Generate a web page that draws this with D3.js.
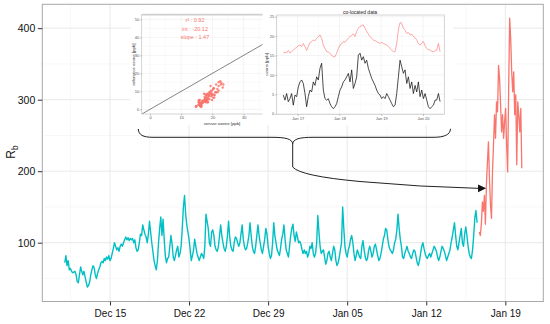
<!doctype html>
<html lang="en">
<head>
<meta charset="utf-8">
<title>Rb with co-located inset</title>
<script src="https://d3js.org/d3.v7.min.js"></script>
<style>
  body { margin: 0; background: #fff; }
  svg { display: block; font-family: 'Liberation Sans', Arial, Helvetica, sans-serif; }
  .grid-major { stroke: #e6e6e6; stroke-width: 0.9; }
  .grid-minor { stroke: #f3f3f3; stroke-width: 0.6; }
</style>
</head>
<body>
<div id="root"></div>
<script>

// main series: Rb before co-location (cyan), sampled every 2.4 h from Dec 11
const cyanStart = new Date(2013, 11, 11, 0, 0);
const cyanStepHours = 2.4;
const cyanValues = [
  72, 82, 68, 75, 62, 64, 60, 58, 59, 60,
  55, 46, 44, 55, 66, 60, 55, 60, 52, 45,
  38, 40, 45, 55, 62, 68, 65, 55, 50, 57,
  62, 66, 72, 74, 72, 78, 75, 80, 77, 82,
  75, 78, 85, 92, 100, 95, 90, 93, 88, 95,
  98, 95, 100, 104, 108, 104, 107, 103, 106, 104,
  106, 100, 104, 93, 88, 90, 100, 112, 110, 125,
  118, 112, 108, 100, 112, 130, 115, 100, 88, 75,
  68, 62, 75, 100, 120, 136, 110, 133, 105, 82,
  72, 78, 80, 95, 110, 98, 80, 75, 82, 90,
  95, 80, 85, 95, 120, 150, 166, 140, 125, 115,
  105, 90, 75, 82, 90, 105, 95, 85, 80, 75,
  80, 85, 82, 78, 95, 140, 130, 120, 100, 95,
  115, 118, 110, 95, 90, 88, 95, 110, 125, 110,
  100, 92, 88, 95, 110, 130, 108, 95, 90, 88,
  100, 108, 106, 100, 95, 100, 112, 125, 105, 95,
  90, 92, 100, 110, 128, 110, 95, 88, 85, 95,
  110, 125, 110, 100, 90, 85, 95, 105, 120, 112,
  95, 85, 78, 82, 100, 128, 110, 100, 90, 86,
  82, 92, 105, 112, 125, 105, 90, 85, 80, 95,
  110, 120, 126, 110, 102, 115, 108, 100, 102, 98,
  90, 85, 90, 85, 88, 80, 85, 95, 92, 100,
  85, 80, 85, 100, 138, 115, 95, 85, 88, 90,
  80, 70, 75, 85, 88, 80, 75, 85, 95, 90,
  75, 68, 72, 80, 90, 100, 150, 120, 95, 85,
  80, 90, 95, 105, 110, 100, 85, 75, 82, 90,
  85, 80, 78, 95, 103, 90, 80, 75, 78, 90,
  95, 88, 80, 85, 95, 98, 90, 82, 75, 78,
  85, 95, 105, 110, 120, 118, 105, 95, 90, 88,
  85, 90, 100, 105, 118, 140, 120, 105, 95, 80,
  78, 85, 90, 95, 88, 85, 80, 78, 85, 90,
  88, 80, 72, 68, 75, 85, 95, 100, 92, 85,
  80, 78, 82, 85, 80, 85, 90, 95, 92, 88,
  80, 75, 80, 88, 95, 92, 88, 82, 75, 80,
  85, 90, 100, 108, 118, 128, 110, 95, 90, 100,
  110, 120, 100, 95, 112, 122, 110, 95, 85, 80,
  78, 90, 110, 135, 145, 128
];

// main series: Rb during co-location (red)
const redStart = new Date(2014, 0, 16, 16, 48);
const redEnd = new Date(2014, 0, 20, 11, 0);
const redValues = [
  115, 110, 126, 157, 144, 166, 126, 182, 213, 241,
  190, 153, 134, 199, 237, 279, 246, 297, 283, 348,
  330, 293, 255, 279, 246, 269, 288, 237, 199, 316,
  414, 386, 339, 311, 339, 279, 307, 209, 297, 279,
  255, 288, 204
];

// inset: co-located ozone, sensor vs reference [ppb]
const colocStart = new Date(2014, 0, 16, 15, 47);
const colocEnd = new Date(2014, 0, 20, 9, 50);
const sensorOzone = [
  15.6, 15.8, 15.7, 16.3, 15.6, 16.0, 16.4, 16.8, 17.1, 17.5,
  17.7, 17.3, 18.1, 17.3, 16.3, 17.4, 18.3, 18.6, 19.0, 18.8,
  19.4, 19.8, 20.3, 19.4, 17.7, 16.8, 16.0, 15.9, 15.6, 15.0,
  14.7, 14.7, 15.6, 16.8, 17.7, 18.0, 18.6, 18.4, 19.0, 19.5,
  19.9, 20.2, 20.6, 19.9, 21.2, 22.0, 22.5, 22.7, 22.9, 22.0,
  21.2, 20.5, 19.9, 19.4, 19.0, 18.8, 18.6, 18.3, 18.1, 18.4,
  18.1, 17.9, 17.7, 17.3, 16.8, 16.4, 16.0, 16.0, 18.1, 21.6,
  23.5, 23.3, 22.0, 21.6, 20.7, 20.9, 20.3, 20.5, 19.9, 19.6,
  19.0, 18.1, 17.7, 18.2, 18.6, 17.5, 16.8, 16.5, 16.4, 16.1,
  16.0, 16.2, 16.4, 18.1, 16.0
];
const referenceOzone = [
  4.8, 3.5, 5.2, 3.1, 3.9, 5.2, 2.2, 4.8, 4.4, 6.9,
  8.2, 8.7, 7.8, 5.2, 1.8, 4.4, 6.1, 5.6, 8.2, 7.3,
  9.5, 8.7, 11.7, 13.0, 6.1, 3.9, 3.5, 3.9, 2.6, 1.8,
  1.3, 1.8, 2.6, 4.4, 6.1, 6.9, 8.2, 8.7, 9.5, 10.4,
  8.2, 11.3, 6.5, 7.8, 9.5, 15.1, 15.6, 13.8, 14.7, 13.0,
  13.8, 11.7, 10.4, 9.1, 8.2, 7.3, 6.1, 5.2, 4.8, 3.9,
  4.4, 3.9, 5.2, 4.4, 3.5, 2.6, 1.8, 2.2, 5.2, 9.5,
  13.8, 12.1, 10.4, 11.3, 7.8, 9.5, 6.5, 8.2, 5.2, 7.3,
  5.6, 8.2, 4.4, 6.1, 3.9, 5.2, 3.5, 1.8, 1.3, 1.8,
  2.2, 3.5, 3.5, 5.2, 3.1
];
const fitStats = ['r\u00b2 : 0.92', 'int : -20.12', 'slope : 1.47'];

// ticks
const mainDateTicks = [
  new Date(2013, 11, 15), new Date(2013, 11, 22), new Date(2013, 11, 29),
  new Date(2014, 0, 5), new Date(2014, 0, 12), new Date(2014, 0, 19)
];
const mainYTicks = [100, 200, 300, 400];
const insetDayTicks = [
  new Date(2014, 0, 17), new Date(2014, 0, 18), new Date(2014, 0, 19), new Date(2014, 0, 20)
];
const scatterXTicks = [0, 10, 20, 30, 40];
const scatterYTicks = [0, 10, 20, 30, 40, 50];
const colocYTicks = [0, 5, 10, 15, 20, 25];

// rows
const HOUR = 3600e3;
const cyanRows = cyanValues.map((v, i) => ({ date: new Date(+cyanStart + i * cyanStepHours * HOUR), v }));
const redRows = redValues.map((v, i) => ({
  date: new Date(+redStart + i * (redEnd - redStart) / (redValues.length - 1)), v
}));
const colocStep = (colocEnd - colocStart) / (sensorOzone.length - 1);
const sensorRows = sensorOzone.map((v, i) => ({ date: new Date(+colocStart + i * colocStep), v }));
const referenceRows = referenceOzone.map((v, i) => ({ date: new Date(+colocStart + i * colocStep), v }));
const scatterRows = sensorOzone.map((s, i) => ({ s, r: referenceOzone[i] }));

const width = 550;
const height = 324;
const panel = { left: 42.3, right: 543.3, top: 4.3, bottom: 301.5 };

const svg = d3.select('#root').append('svg')
  .attr('width', width)
  .attr('height', height);

// main scales
const x = d3.scaleTime()
  .domain([new Date(2013, 11, 9, 0, 14), new Date(2014, 0, 22, 8, 40)])
  .range([panel.left, panel.right]);
const y = d3.scaleLinear()
  .domain([17.8, 433.4])
  .range([panel.bottom, panel.top]);

// grid
const minorDates = mainDateTicks.map(d => d3.timeHour.offset(d, -84))
  .concat([d3.timeHour.offset(mainDateTicks[5], 84)])
  .filter(d => d >= x.domain()[0] && d <= x.domain()[1]);
const minorY = [50, 150, 250, 350];

const grid = svg.append('g');
grid.selectAll('.mx').data(minorDates).enter().append('line')
  .attr('class', 'grid-minor')
  .attr('x1', d => x(d)).attr('x2', d => x(d))
  .attr('y1', panel.top).attr('y2', panel.bottom);
grid.selectAll('.my').data(minorY).enter().append('line')
  .attr('class', 'grid-minor')
  .attr('x1', panel.left).attr('x2', panel.right)
  .attr('y1', d => y(d)).attr('y2', d => y(d));
grid.selectAll('.Mx').data(mainDateTicks).enter().append('line')
  .attr('class', 'grid-major')
  .attr('x1', d => x(d)).attr('x2', d => x(d))
  .attr('y1', panel.top).attr('y2', panel.bottom);
grid.selectAll('.My').data(mainYTicks).enter().append('line')
  .attr('class', 'grid-major')
  .attr('x1', panel.left).attr('x2', panel.right)
  .attr('y1', d => y(d)).attr('y2', d => y(d));

// lines
const line = d3.line().x(d => x(d.date)).y(d => y(d.v));
svg.append('path').datum(cyanRows)
  .attr('d', line).attr('fill', 'none')
  .attr('stroke', '#00BFC4').attr('stroke-width', 1.4).attr('stroke-linejoin', 'round');
svg.append('path').datum(redRows)
  .attr('d', line).attr('fill', 'none')
  .attr('stroke', '#F8766D').attr('stroke-width', 1.3).attr('stroke-linejoin', 'round');

// panel border
svg.append('rect')
  .attr('x', panel.left).attr('y', panel.top)
  .attr('width', panel.right - panel.left).attr('height', panel.bottom - panel.top)
  .attr('fill', 'none').attr('stroke', '#a8a8a8').attr('stroke-width', 1);

// axes
const xAxis = d3.axisBottom(x).tickValues(mainDateTicks)
  .tickFormat(d3.timeFormat('%b %d')).tickSize(4).tickPadding(4.5);
const yAxis = d3.axisLeft(y).tickValues(mainYTicks).tickSize(4.5).tickPadding(2.5);

const gx = svg.append('g').attr('transform', `translate(0, ${panel.bottom})`).call(xAxis);
const gy = svg.append('g').attr('transform', `translate(${panel.left}, 0)`).call(yAxis);
[gx, gy].forEach(g => {
  g.select('.domain').remove();
  g.selectAll('line').attr('stroke', '#333');
  g.selectAll('text').attr('fill', '#111').style('font-family', null);
});
gx.selectAll('text').attr('font-size', 10);
gy.selectAll('text').attr('font-size', 10.5);

svg.append('text')
  .attr('transform', 'translate(15, 152) rotate(-90)')
  .attr('text-anchor', 'middle')
  .attr('font-size', 12)
  .attr('fill', '#111')
  .text('R')
  .append('tspan').attr('font-size', 8.5).attr('dy', 3).text('b');

// ---------- insets ----------
svg.append('rect')
  .attr('x', 130).attr('y', 5.5).attr('width', 323).attr('height', 119.5)
  .attr('fill', '#fff');

function insetGrid(g, xs, ys, xMajor, xMinor, yMajor, yMinor, box) {
  g.selectAll(null).data(xMinor).enter().append('line')
    .attr('stroke', '#f3f3f3').attr('stroke-width', 0.4)
    .attr('x1', d => xs(d)).attr('x2', d => xs(d)).attr('y1', box.top).attr('y2', box.bottom);
  g.selectAll(null).data(yMinor).enter().append('line')
    .attr('stroke', '#f3f3f3').attr('stroke-width', 0.4)
    .attr('x1', box.left).attr('x2', box.right).attr('y1', d => ys(d)).attr('y2', d => ys(d));
  g.selectAll(null).data(xMajor).enter().append('line')
    .attr('stroke', '#e8e8e8').attr('stroke-width', 0.5)
    .attr('x1', d => xs(d)).attr('x2', d => xs(d)).attr('y1', box.top).attr('y2', box.bottom);
  g.selectAll(null).data(yMajor).enter().append('line')
    .attr('stroke', '#e8e8e8').attr('stroke-width', 0.5)
    .attr('x1', box.left).attr('x2', box.right).attr('y1', d => ys(d)).attr('y2', d => ys(d));
}

function styleInsetAxis(g) {
  g.select('.domain').remove();
  g.selectAll('line').attr('stroke', '#666').attr('stroke-width', 0.4);
  g.selectAll('text').attr('fill', '#555').attr('font-size', 4).style('font-family', null);
}

// scatter inset
const sBox = { left: 141.7, right: 302, top: 14.7, bottom: 114 };
const sx = d3.scaleLinear().domain([-2.66, 48.7]).range([sBox.left, sBox.right]);
const sy = d3.scaleLinear().domain([-2.6, 52.6]).range([sBox.bottom, sBox.top]);
const scatter = svg.append('g');
svg.append('clipPath').attr('id', 'sclip').append('rect')
  .attr('x', sBox.left).attr('y', sBox.top)
  .attr('width', sBox.right - sBox.left).attr('height', sBox.bottom - sBox.top);

insetGrid(scatter, sx, sy, scatterXTicks, [5, 15, 25, 35, 45], scatterYTicks, [5, 15, 25, 35, 45], sBox);

scatter.append('line')
  .attr('clip-path', 'url(#sclip)')
  .attr('x1', sx(-5)).attr('y1', sy(-5))
  .attr('x2', sx(60)).attr('y2', sy(60))
  .attr('stroke', '#333').attr('stroke-width', 0.6);

scatter.selectAll('circle').data(scatterRows).enter().append('circle')
  .attr('cx', d => sx(d.s)).attr('cy', d => sy(d.r)).attr('r', 1.2)
  .attr('fill', '#F8766D').attr('fill-opacity', 0.85);

scatter.append('rect')
  .attr('x', sBox.left).attr('y', sBox.top)
  .attr('width', sBox.right - sBox.left).attr('height', sBox.bottom - sBox.top)
  .attr('fill', 'none').attr('stroke', '#c4c4c4').attr('stroke-width', 0.7);
scatter.append('line')
  .attr('x1', sBox.left).attr('x2', sBox.right).attr('y1', sBox.top).attr('y2', sBox.top)
  .attr('stroke', '#cfcfcf').attr('stroke-width', 1.8);

scatter.selectAll('.stat').data(fitStats).enter().append('text')
  .attr('x', 195).attr('y', (d, i) => 22 + i * 8.5)
  .attr('text-anchor', 'middle').attr('font-size', 5.5)
  .attr('fill', '#F8766D').text(d => d);

const sxAxis = scatter.append('g').attr('transform', `translate(0, ${sBox.bottom})`)
  .call(d3.axisBottom(sx).tickValues(scatterXTicks).tickSize(1.5).tickPadding(1));
const syAxis = scatter.append('g').attr('transform', `translate(${sBox.left}, 0)`)
  .call(d3.axisLeft(sy).tickValues(scatterYTicks).tickSize(1.5).tickPadding(1));
styleInsetAxis(sxAxis);
styleInsetAxis(syAxis);

scatter.append('text').attr('x', 222).attr('y', 124.5)
  .attr('text-anchor', 'middle').attr('font-size', 4.3).attr('fill', '#333')
  .text('sensor ozone [ppb]');
scatter.append('text').attr('transform', 'translate(134.8, 64.5) rotate(-90)')
  .attr('text-anchor', 'middle').attr('font-size', 4.3).attr('fill', '#333')
  .text('reference ozone [ppb]');

// co-located time series inset
svg.append('rect')
  .attr('x', 262.5).attr('y', 5.5).attr('width', 190).attr('height', 119.5)
  .attr('fill', '#fff');

const cBox = { left: 276.7, right: 444.3, top: 15, bottom: 114.3 };
const cx = d3.scaleTime()
  .domain([new Date(2014, 0, 16, 12, 0), new Date(2014, 0, 20, 12, 15)])
  .range([cBox.left, cBox.right]);
const cy = d3.scaleLinear().domain([-0.15, 25.44]).range([cBox.bottom, cBox.top]);
const coloc = svg.append('g');

const cMinorX = insetDayTicks.map(d => d3.timeHour.offset(d, -12));
insetGrid(coloc, cx, cy, insetDayTicks, cMinorX, colocYTicks, [2.5, 7.5, 12.5, 17.5, 22.5], cBox);

const cline = d3.line().x(d => cx(d.date)).y(d => cy(d.v));
coloc.append('path').datum(sensorRows).attr('d', cline)
  .attr('fill', 'none').attr('stroke', '#FF6B6B').attr('stroke-width', 0.6);
coloc.append('path').datum(referenceRows).attr('d', cline)
  .attr('fill', 'none').attr('stroke', '#111').attr('stroke-width', 0.75);

coloc.append('rect')
  .attr('x', cBox.left).attr('y', cBox.top)
  .attr('width', cBox.right - cBox.left).attr('height', cBox.bottom - cBox.top)
  .attr('fill', 'none').attr('stroke', '#c4c4c4').attr('stroke-width', 0.7);

const cxAxis = coloc.append('g').attr('transform', `translate(0, ${cBox.bottom})`)
  .call(d3.axisBottom(cx).tickValues(insetDayTicks).tickFormat(d3.timeFormat('%b %d'))
    .tickSize(1.5).tickPadding(1.2));
const cyAxis = coloc.append('g').attr('transform', `translate(${cBox.left}, 0)`)
  .call(d3.axisLeft(cy).tickValues(colocYTicks).tickSize(1.5).tickPadding(1));
styleInsetAxis(cxAxis);
styleInsetAxis(cyAxis);

coloc.append('text').attr('x', 360).attr('y', 14)
  .attr('text-anchor', 'middle').attr('font-size', 5).attr('fill', '#222')
  .text('co-located data');
coloc.append('text').attr('transform', 'translate(267.8, 64.5) rotate(-90)')
  .attr('text-anchor', 'middle').attr('font-size', 4.3).attr('fill', '#333')
  .text('ozone [ppb]');

// brace + arrow pointing at the co-located period
const tip = [x(new Date(2014, 0, 17, 7, 0)), y(176)];
svg.append('path')
  .attr('d', 'M138.3,129 C138.6,135 143,137.3 153,137.3 L272,137.3 C286,137.3 292.4,139 292.7,144 ' +
             'C293,139 299.5,137.3 313,137.3 L433,137.3 C444,137.3 450.2,135 450.5,128.8')
  .attr('fill', 'none').attr('stroke', '#222').attr('stroke-width', 1);
svg.append('path')
  .attr('d', `M292.7,144 L292.7,167 Q300,176 360,181.5 T${tip[0] - 7},${tip[1]}`)
  .attr('fill', 'none').attr('stroke', '#222').attr('stroke-width', 1);
svg.append('path')
  .attr('d', `M${tip[0]},${tip[1]} L${tip[0] - 8},${tip[1] - 3.8} L${tip[0] - 8},${tip[1] + 3.8} Z`)
  .attr('fill', '#111');

</script>
</body>
</html>
